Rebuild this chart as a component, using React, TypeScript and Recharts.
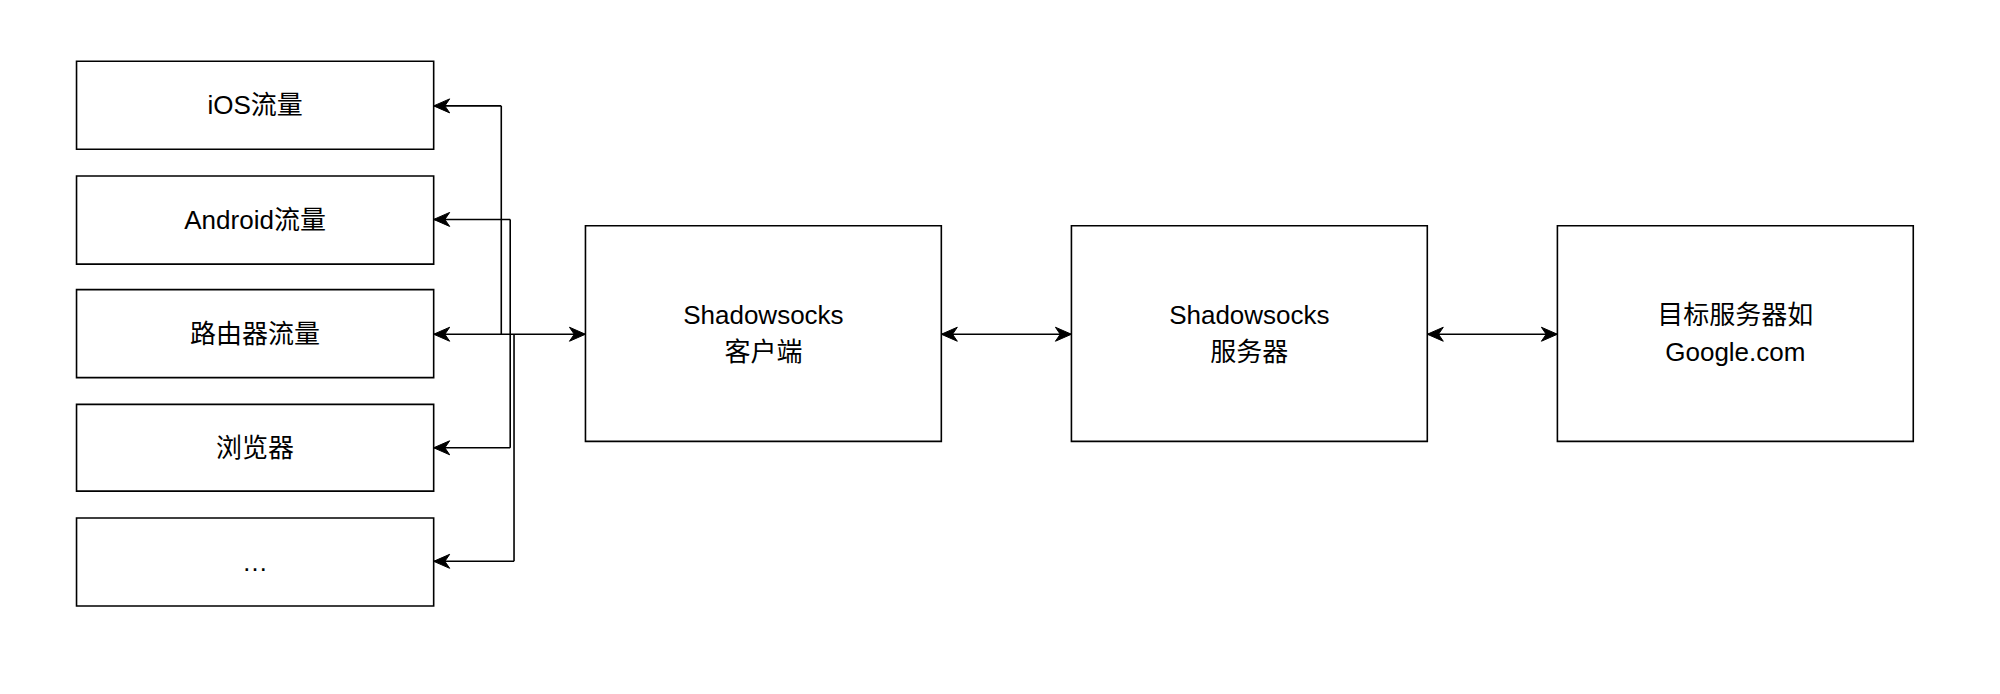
import { ComposedChart, XAxis, YAxis, ReferenceArea, ReferenceLine, Scatter } from 'recharts'

// diagram coordinates (units of a 1568 x 544 drawing)
const boxes = [
  { x1: 60, x2: 340, y1: 48, y2: 117, lines: ['iOS流量'] },
  { x1: 60, x2: 340, y1: 138, y2: 207, lines: ['Android流量'] },
  { x1: 60, x2: 340, y1: 227, y2: 296, lines: ['路由器流量'] },
  { x1: 60, x2: 340, y1: 317, y2: 385, lines: ['浏览器'] },
  { x1: 60, x2: 340, y1: 406, y2: 475, lines: ['…'] },
  { x1: 459, x2: 738, y1: 177, y2: 346, lines: ['Shadowsocks', '客户端'] },
  { x1: 840, x2: 1119, y1: 177, y2: 346, lines: ['Shadowsocks', '服务器'] },
  { x1: 1221, x2: 1500, y1: 177, y2: 346, lines: ['目标服务器如', 'Google.com'] },
]

const connectors = [
  [{ x: 340, y: 83 }, { x: 393, y: 83 }],
  [{ x: 393, y: 83 }, { x: 393, y: 262 }],
  [{ x: 340, y: 172 }, { x: 400, y: 172 }],
  [{ x: 400, y: 172 }, { x: 400, y: 351 }],
  [{ x: 340, y: 351 }, { x: 400, y: 351 }],
  [{ x: 403, y: 262 }, { x: 403, y: 440 }],
  [{ x: 340, y: 440 }, { x: 403, y: 440 }],
  [{ x: 340, y: 262 }, { x: 459, y: 262 }],
  [{ x: 738, y: 262 }, { x: 840, y: 262 }],
  [{ x: 1119, y: 262 }, { x: 1221, y: 262 }],
]

const arrowheads = [
  { x: 340, y: 83, dir: -1 },
  { x: 340, y: 172, dir: -1 },
  { x: 340, y: 262, dir: -1 },
  { x: 340, y: 351, dir: -1 },
  { x: 340, y: 440, dir: -1 },
  { x: 459, y: 262, dir: 1 },
  { x: 738, y: 262, dir: -1 },
  { x: 840, y: 262, dir: 1 },
  { x: 1119, y: 262, dir: -1 },
  { x: 1221, y: 262, dir: 1 },
]

const FONT = '"Liberation Sans", "Noto Sans CJK SC", sans-serif'

const BoxLabel = (lines: string[]) => (props: any) => {
  const { x, y, width, height } = props.viewBox
  const cx = x + width / 2
  const cy = y + height / 2
  const lh = 37
  const start = cy - ((lines.length - 1) * lh) / 2
  return (
    <text x={cx} y={start} textAnchor="middle" dominantBaseline="central" fontFamily={FONT} fontSize={26} fill="#000">
      {lines.map((l, i) => (
        <tspan key={i} x={cx} y={start + i * lh} dominantBaseline="central">{l}</tspan>
      ))}
    </text>
  )
}

const Arrow = (props: any) => {
  const { cx, cy, payload } = props
  const d = payload.dir
  const len = 16
  const hw = 7
  return (
    <path
      d={`M${cx},${cy} L${cx - d * len},${cy - hw} L${cx - d * len * 0.7},${cy} L${cx - d * len},${cy + hw} Z`}
      fill="#000"
      stroke="#000"
      strokeWidth={1}
    />
  )
}

export default function App() {
  return (
    <div style={{ position: 'absolute', left: 0, top: 0, background: '#fff' }}>
      <ComposedChart width={2000} height={694} margin={{ top: 0, right: 0, bottom: 0, left: 0 }}>
        <XAxis type="number" dataKey="x" domain={[0, 1568]} hide allowDataOverflow />
        <YAxis type="number" dataKey="y" domain={[0, 544]} reversed hide allowDataOverflow />
        {boxes.map((b, i) => (
          <ReferenceArea
            key={i}
            x1={b.x1}
            x2={b.x2}
            y1={b.y1}
            y2={b.y2}
            fill="#fff"
            fillOpacity={1}
            stroke="#000"
            strokeWidth={1.6}
            label={BoxLabel(b.lines)}
          />
        ))}
        {connectors.map((seg, i) => (
          <ReferenceLine key={i} segment={seg} stroke="#000" strokeWidth={1.6} />
        ))}
        <Scatter data={arrowheads} shape={Arrow} isAnimationActive={false} />
      </ComposedChart>
    </div>
  )
}
